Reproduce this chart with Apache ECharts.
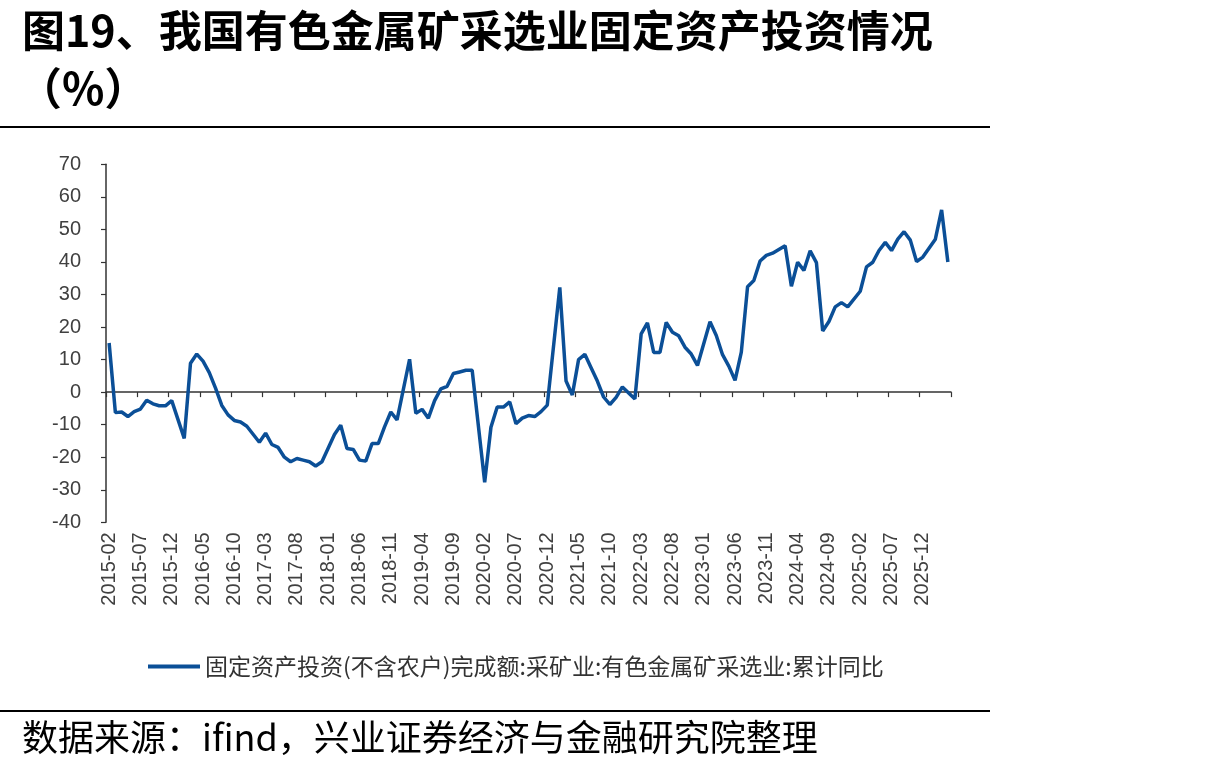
<!DOCTYPE html>
<html>
<head>
<meta charset="utf-8">
<script src="https://cdn.jsdelivr.net/npm/echarts@6/dist/echarts.min.js"></script>
<style>
html,body{margin:0;padding:0;background:#fff;}
#chart{width:1205px;height:776px;}
</style>
</head>
<body>
<div id="chart"></div>
<script>
// ---- data ----
const titleLine1 = '图19、我国有色金属矿采选业固定资产投资情况';
const titleLine2 = '（%）';
const sourceText = '数据来源：ifind，兴业证券经济与金融研究院整理';
const seriesName = '固定资产投资(不含农户)完成额:采矿业:有色金属矿采选业:累计同比';

// monthly categories 2015-02 .. 2026-04
const months = [];
for (let y = 2015; y <= 2026; y++) {
  for (let m = 1; m <= 12; m++) {
    if (y === 2015 && m < 2) continue;
    if (y === 2026 && m > 4) continue;
    months.push(y + '-' + (m < 10 ? '0' + m : '' + m));
  }
}

// cumulative YoY (%), January not published (null)
const v2015 = [15.1, -6.3, -6.1, -7.5, -6.0, -5.2, -2.5, -3.6, -4.2, -4.2, -2.6];
const v2016 = [null, -14.2, 8.9, 11.7, 9.5, 6.0, 1.2, -4.1, -7.0, -8.7, -9.2, -10.5];
const v2017 = [null, -15.4, -12.6, -16.1, -17.0, -20.0, -21.4, -20.4, -20.9, -21.4, -22.7, -21.4];
const v2018 = [null, -13.0, -10.2, -17.3, -17.6, -20.9, -21.2, -15.8, -15.8, -10.7, -6.1, -8.5];
const v2019 = [null, 10.1, -6.5, -5.3, -8.0, -2.6, 1.0, 1.8, 5.7, 6.2, 6.7, 6.7];
const v2020 = [null, -27.7, -10.8, -4.6, -4.6, -3.0, -9.7, -8.0, -7.2, -7.5, -6.0, -4.0];
const v2021 = [null, 32.2, 3.4, -0.9, 10.0, 11.6, 7.5, 3.4, -1.5, -3.8, -1.6, 1.6];
const v2022 = [null, -2.1, 17.9, 21.3, 12.2, 12.2, 21.4, 18.4, 17.3, 13.8, 11.7, 8.2];
const v2023 = [null, 21.6, 17.4, 11.5, 8.0, 3.6, 12.3, 32.4, 34.3, 40.3, 42.0, 42.7];
const v2024 = [null, 45.0, 32.5, 39.9, 37.4, 43.4, 39.8, 18.8, 21.7, 26.2, 27.5, 26.2];
const v2025 = [null, 31.0, 38.5, 39.9, 43.5, 46.0, 43.5, 47.0, 49.3, 46.7, 40.1, 41.5];
const v2026 = [null, 47.0, 56.0, 40.0];
const values = [].concat(v2015, v2016, v2017, v2018, v2019, v2020, v2021, v2022, v2023, v2024, v2025, v2026);

const yMin = -40, yMax = 70, yStep = 10;

// ---- chart ----
const chart = echarts.init(document.getElementById('chart'), null, {renderer: 'canvas'});
const lineColor = '#0B4F97';
const axisColor = '#333333';
const labelColor = '#404040';

chart.setOption({
  animation: false,
  backgroundColor: '#ffffff',
  grid: {left: 106, right: 254, top: 164.3, bottom: 253.7, containLabel: false},
  legend: {
    show: true,
    left: 143, top: 650,
    icon: 'rect', itemWidth: 52, itemHeight: 4, itemGap: 10,
    textStyle: {fontSize: 23, color: '#333333', fontFamily: 'Noto Sans CJK SC'},
    data: [seriesName]
  },
  xAxis: [
    {
      type: 'category', data: months, boundaryGap: true,
      axisLine: {show: true, onZero: true, lineStyle: {color: axisColor, width: 1.5}},
      axisTick: {show: true, interval: 4, length: 5, lineStyle: {color: axisColor, width: 1.2}},
      axisLabel: {show: false},
      splitLine: {show: false}
    },
    {
      type: 'category', data: months, boundaryGap: true, position: 'bottom',
      axisLine: {show: false, onZero: false},
      axisTick: {show: false},
      axisLabel: {show: true, interval: 4, rotate: 90, margin: 10, fontSize: 20,
        color: labelColor, fontFamily: 'Liberation Sans'},
      splitLine: {show: false}
    }
  ],
  yAxis: {
    type: 'value', min: yMin, max: yMax, interval: yStep,
    axisLine: {show: true, lineStyle: {color: axisColor, width: 1.5}},
    axisTick: {show: true, length: 5, lineStyle: {color: axisColor, width: 1.2}},
    axisLabel: {fontSize: 20, color: labelColor, margin: 25, fontFamily: 'Liberation Sans'},
    splitLine: {show: false}
  },
  series: [{
    name: seriesName,
    type: 'line',
    xAxisIndex: 0,
    data: values,
    connectNulls: true,
    showSymbol: false,
    symbol: 'none',
    lineStyle: {color: lineColor, width: 3.5},
    itemStyle: {color: lineColor}
  }],
  graphic: [
    {type: 'text', left: 22, top: 9, style: {text: titleLine1, fontSize: 43, fontWeight: 'bold',
      fontFamily: 'Noto Sans CJK SC', fill: '#000'}},
    {type: 'text', left: 18, top: 66, style: {text: titleLine2, fontSize: 44, fontWeight: 'bold',
      fontFamily: 'Noto Sans CJK SC', fill: '#000'}},
    {type: 'rect', shape: {x: 0, y: 126, width: 990, height: 2}, style: {fill: '#000'}},
    {type: 'rect', shape: {x: 0, y: 710, width: 990, height: 2}, style: {fill: '#000'}},
    {type: 'text', left: 22, top: 719, style: {text: sourceText, fontSize: 36,
      fontFamily: 'Noto Sans CJK SC', fill: '#000'}}
  ]
});
</script>
</body>
</html>
